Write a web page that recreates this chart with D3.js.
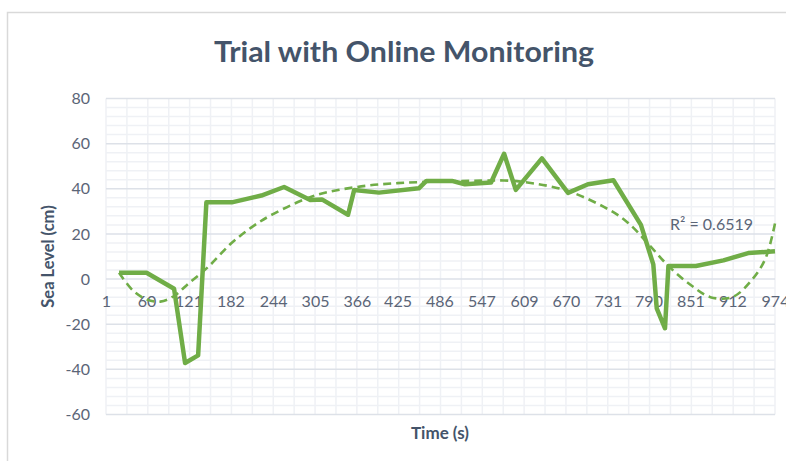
<!DOCTYPE html>
<html>
<head>
<meta charset="utf-8">
<script src="https://cdn.jsdelivr.net/npm/d3@7"></script>
<style>
  body { margin: 0; background: #fff; }
  text { font-family: Lato, "Open Sans", sans-serif; }
</style>
</head>
<body>
<div id="chart"></div>
<script>
// time (s) of each logged reading, and the sea level at it
const times  = [20, 60, 100, 116, 135, 147, 184, 227, 260, 298, 315, 353, 362, 398, 456, 467, 504, 523, 561, 580,
                597, 635, 673, 702, 739, 779, 797, 802, 814, 819, 859, 899, 935, 974];
const levels = [2.8, 2.8, -4.3, -37.2, -33.8, 34, 34, 37, 40.8, 35, 35.3, 28.5, 39.5, 38.3, 40.2, 43.5, 43.5, 42, 42.8, 55.5,
                39.5, 53.5, 38.2, 42, 43.8, 24, 6.5, -13, -21.8, 5.8, 5.8, 8.3, 11.5, 12.3];

// polynomial trendline
const trendTimes  = [20, 40, 60, 80, 100, 121, 150, 182, 213, 244, 305, 366, 425, 486, 547, 580, 609, 670, 731, 760, 790,
                     820, 851, 880, 912, 940, 960, 974];
const trendLevels = [2.8, -5, -9, -10, -7.5, -2, 5.5, 15.5, 23, 28.8, 37, 40.8, 42.5, 43.2, 43.6, 43.7, 43, 39.3, 31, 25, 15.5,
                     5.5, -2.5, -8, -8, -0.5, 9, 24.6];

const xLabels = [1, 60, 121, 182, 244, 305, 366, 425, 486, 547, 609, 670, 731, 790, 851, 912, 974];
const yTicks = [-60, -40, -20, 0, 20, 40, 60, 80];
const categoryCount = 33; // tick marks on the category axis (labels on every other one)
const rSquared = "R² = 0.6519";

const width = 786, height = 461;
const plot = {left: 106, right: 775, top: 98.5, bottom: 414.5};

const svg = d3.select('#chart').append('svg')
    .attr('width', width)
    .attr('height', height);

// chart frame
svg.append('rect')
    .attr('x', 7.5).attr('y', 12.5)
    .attr('width', 900).attr('height', 600)
    .attr('fill', '#fff')
    .attr('stroke', '#d9d9d9')
    .attr('stroke-width', 1.5);

const x = d3.scaleLinear().domain([1, 974]).range([plot.left, plot.right]);
const xCat = d3.scaleLinear().domain([0, categoryCount - 1]).range([plot.left, plot.right]);
const y = d3.scaleLinear().domain([-60, 80]).range([plot.bottom, plot.top]);

// minor horizontal gridlines
svg.append('g')
  .selectAll('line')
  .data(d3.range(-60, 81, 4).filter(v => v % 20 !== 0))
  .join('line')
    .attr('x1', plot.left).attr('x2', plot.right)
    .attr('y1', d => y(d)).attr('y2', d => y(d))
    .attr('stroke', '#eff1f5')
    .attr('stroke-width', 1.5);

// vertical gridlines at every category tick
svg.append('g')
  .selectAll('line')
  .data(d3.range(categoryCount))
  .join('line')
    .attr('x1', d => xCat(d)).attr('x2', d => xCat(d))
    .attr('y1', plot.top).attr('y2', plot.bottom)
    .attr('stroke', '#eff1f5')
    .attr('stroke-width', 1.5);

// major horizontal gridlines
svg.append('g')
  .selectAll('line')
  .data(yTicks)
  .join('line')
    .attr('x1', plot.left).attr('x2', plot.right)
    .attr('y1', d => y(d)).attr('y2', d => y(d))
    .attr('stroke', '#dde1e8')
    .attr('stroke-width', 1.5);

const labelColor = '#5b6577';

// y axis labels (plain hyphen minus, like the original)
svg.append('g')
    .attr('transform', `translate(${plot.left},0)`)
    .call(d3.axisLeft(y).tickValues(yTicks).tickFormat(d => String(d)).tickSize(0).tickPadding(16))
    .call(g => g.select('.domain').remove())
    .call(g => g.selectAll('.tick text')
      .attr('font-family', 'Lato, "Open Sans", sans-serif')
      .attr('font-size', 16)
      .attr('fill', labelColor));

// category labels sit on the zero line
svg.append('g')
    .attr('transform', `translate(0,${y(0)})`)
    .call(d3.axisBottom(x).tickValues(xLabels).tickFormat(d => String(d)).tickSize(0).tickPadding(17))
    .call(g => g.select('.domain').remove())
    .call(g => g.selectAll('.tick text')
      .attr('font-family', 'Lato, "Open Sans", sans-serif')
      .attr('font-size', 16)
      .attr('fill', labelColor));

const green = '#70ad47';

// trendline
svg.append('path')
    .datum(trendTimes.map((t, i) => [t, trendLevels[i]]))
    .attr('fill', 'none')
    .attr('stroke', green)
    .attr('stroke-width', 2.6)
    .attr('stroke-dasharray', '8,5')
    .attr('d', d3.line().x(d => x(d[0])).y(d => y(d[1])).curve(d3.curveCatmullRom));

// data line
svg.append('path')
    .datum(times.map((t, i) => [t, levels[i]]))
    .attr('fill', 'none')
    .attr('stroke', green)
    .attr('stroke-width', 4.5)
    .attr('stroke-linejoin', 'round')
    .attr('d', d3.line().x(d => x(d[0])).y(d => y(d[1])));

svg.append('text')
    .attr('x', 670).attr('y', 230)
    .attr('font-size', 16)
    .attr('fill', labelColor)
    .text(rSquared);

// title
svg.append('text')
    .attr('x', 404).attr('y', 62)
    .attr('text-anchor', 'middle')
    .attr('font-size', 28)
    .attr('font-weight', 'bold')
    .attr('fill', '#44546a')
    .attr('textLength', 380)
    .attr('lengthAdjust', 'spacingAndGlyphs')
    .text('Trial with Online Monitoring');

// axis titles
svg.append('text')
    .attr('transform', `translate(54,${(plot.top + plot.bottom) / 2}) rotate(-90)`)
    .attr('text-anchor', 'middle')
    .attr('font-size', 16.5)
    .attr('font-weight', 'bold')
    .attr('fill', '#44546a')
    .text('Sea Level (cm)');

svg.append('text')
    .attr('x', 440).attr('y', 439)
    .attr('text-anchor', 'middle')
    .attr('font-size', 17)
    .attr('font-weight', 'bold')
    .attr('fill', '#44546a')
    .text('Time (s)');
</script>
</body>
</html>
